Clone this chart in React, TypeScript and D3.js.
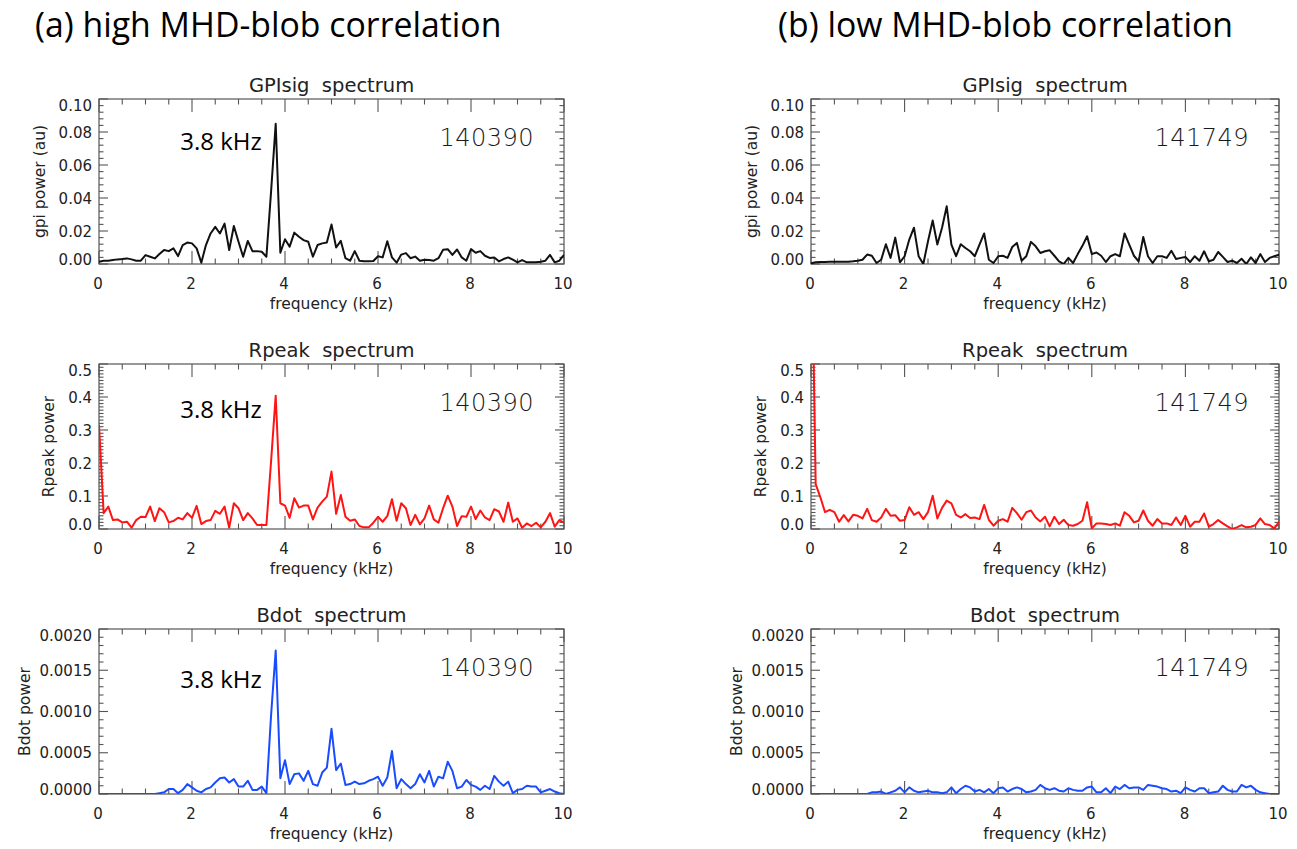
import React from "react";
import * as d3 from "d3";

// frequency bins are 0.1 kHz apart, 0 .. 10 kHz
const FREQ_STEP_KHZ = 0.1;

const headers = ["(a) high MHD-blob correlation", "(b) low MHD-blob correlation"];
const shots = ["140390", "141749"];
const peakLabel = "3.8 kHz";
const xTicks = [0, 2, 4, 6, 8, 10];
const xLabel = "frequency (kHz)";

const gpi140390 = [
  0.0014, 0.002, 0.002, 0.0024, 0.0028, 0.003, 0.0034, 0.0028, 0.002, 0.002,
  0.0054, 0.0044, 0.0034, 0.006, 0.0085, 0.0078, 0.0095, 0.0048, 0.0115, 0.013,
  0.0125, 0.0095, 0.0008, 0.0115, 0.0185, 0.0225, 0.0185, 0.0245, 0.0085, 0.023,
  0.0135, 0.0044, 0.014, 0.0078, 0.0078, 0.0074, 0.0044, 0.0437, 0.085, 0.0068,
  0.015, 0.0105, 0.019, 0.0165, 0.0145, 0.0135, 0.0044, 0.0115, 0.0125, 0.013,
  0.024, 0.01, 0.014, 0.0035, 0.002, 0.0078, 0.002, 0.0016, 0.0016, 0.0018,
  0.0047, 0.004, 0.0138, 0.004, 0.0008, 0.0057, 0.0066, 0.0035, 0.0045, 0.002,
  0.0026, 0.0024, 0.002, 0.0035, 0.0086, 0.009, 0.0055, 0.0088, 0.004, 0.002,
  0.009, 0.0068, 0.0078, 0.005, 0.0037, 0.004, 0.0016, 0.003, 0.004, 0.0026,
  0.001, 0.0024, 0.001, 0.001, 0.001, 0.0014, 0.002, 0.0055, 0.001, 0.002,
  0.0055,
];

const gpi141749 = [
  0.0004, 0.001, 0.0012, 0.0012, 0.0013, 0.0013, 0.0014, 0.0014, 0.0013, 0.0016,
  0.002, 0.0026, 0.0057, 0.005, 0.0006, 0.0026, 0.012, 0.0037, 0.016, 0.001,
  0.0047, 0.0148, 0.022, 0.0047, 0.0, 0.0138, 0.0264, 0.0118, 0.022, 0.035,
  0.0118, 0.0047, 0.012, 0.0097, 0.0077, 0.0047, 0.0118, 0.0185, 0.0026, 0.0006,
  0.0047, 0.005, 0.0037, 0.0103, 0.0128, 0.002, 0.0047, 0.0134, 0.0107, 0.0067,
  0.0077, 0.0083, 0.005, 0.0016, 0.0, 0.0037, 0.0006, 0.006, 0.011, 0.0168,
  0.006, 0.007, 0.005, 0.0012, 0.0047, 0.006, 0.0047, 0.0185, 0.0118, 0.005,
  0.0016, 0.0164, 0.0047, 0.0006, 0.0047, 0.0047, 0.0037, 0.008, 0.003, 0.0037,
  0.0043, 0.0012, 0.0047, 0.002, 0.0077, 0.0016, 0.0026, 0.0073, 0.0043, 0.0012,
  0.002, 0.0006, 0.0032, 0.0, 0.004, 0.0006, 0.006, 0.0012, 0.0037, 0.0047,
  0.0057,
];

const rpeak140390 = [
  0.316, 0.048, 0.068, 0.027, 0.029, 0.02, 0.022, 0.004, 0.027, 0.037,
  0.036, 0.068, 0.024, 0.063, 0.051, 0.02, 0.024, 0.034, 0.029, 0.048,
  0.034, 0.07, 0.015, 0.024, 0.027, 0.055, 0.046, 0.068, 0.004, 0.078,
  0.063, 0.027, 0.048, 0.032, 0.012, 0.012, 0.012, 0.204, 0.404, 0.078,
  0.071, 0.034, 0.093, 0.065, 0.071, 0.071, 0.029, 0.065, 0.083, 0.098,
  0.174, 0.046, 0.103, 0.037, 0.025, 0.029, 0.009, 0.005, 0.005, 0.019,
  0.037, 0.022, 0.039, 0.09, 0.025, 0.078, 0.063, 0.012, 0.043, 0.014,
  0.032, 0.071, 0.029, 0.019, 0.063, 0.101, 0.068, 0.009, 0.039, 0.037,
  0.068, 0.03, 0.056, 0.035, 0.027, 0.06, 0.053, 0.022, 0.08, 0.022,
  0.032, 0.004, 0.017, 0.009, 0.019, 0.005, 0.022, 0.048, 0.007, 0.027,
  0.019,
];

const rpeak141749 = [
  1.0, 0.136, 0.096, 0.051, 0.058, 0.051, 0.022, 0.042, 0.023, 0.043,
  0.04, 0.032, 0.061, 0.027, 0.022, 0.035, 0.061, 0.04, 0.042, 0.025,
  0.027, 0.066, 0.043, 0.051, 0.03, 0.051, 0.101, 0.032, 0.064, 0.086,
  0.078, 0.043, 0.035, 0.045, 0.033, 0.035, 0.03, 0.073, 0.028, 0.01,
  0.025, 0.03, 0.022, 0.064, 0.048, 0.028, 0.051, 0.056, 0.035, 0.023,
  0.037, 0.008, 0.037, 0.015, 0.028, 0.012, 0.01, 0.015, 0.025, 0.081,
  0.002, 0.017, 0.017, 0.015, 0.012, 0.017, 0.01, 0.051, 0.04, 0.02,
  0.025, 0.056, 0.025, 0.01, 0.03, 0.017, 0.017, 0.012, 0.035, 0.012,
  0.04, 0.007, 0.022, 0.022, 0.047, 0.007, 0.015, 0.027, 0.017, 0.008,
  0.0, 0.005, 0.012, 0.005, 0.007, 0.012, 0.032, 0.015, 0.012, 0.002,
  0.022,
];

const bdot140390 = [
  0, 0, 0, 0, 0, 0, 0, 0, 0, 0,
  0, 0, 0, 0.00001, 0.00002, 0.00006, 0.00006, 0.00001, 0.00005, 0.00012,
  0.00008, 0.00004, 0.00002, 0.00006, 0.00008, 0.00014, 0.00019, 0.0002, 0.00014, 0.00018,
  0.00009, 0.00009, 0.00016, 0.00005, 0.00005, 0.00009, 0.00001, 0.00095, 0.00174, 0.00019,
  0.00041, 0.00012, 0.00024, 0.00025, 0.00016, 0.00028, 0.00012, 0.0001, 0.00026, 0.00032,
  0.00079, 0.00029, 0.00037, 0.00011, 0.00012, 0.00015, 0.00012, 0.00013, 0.00016, 0.00018,
  0.00021, 0.0001, 0.0002, 0.00052, 0.00007, 0.00018, 0.00012, 0.00007, 0.00012, 0.00024,
  0.00014, 0.00028, 0.00009, 0.00021, 0.00019, 0.00039, 0.00028, 0.00007, 0.00009, 0.00017,
  0.00011, 0.00009, 0.00005, 0.0001, 0.00006, 0.00022, 0.00015, 0.0001, 0.00015, 0.00001,
  0.00005, 0.00006, 0.0001, 0.00009, 0.00009, 0.00002, 0.00004, 0.00006, 0.00003, 0.00001,
  0,
];

const bdot141749 = [
  0, 0, 0, 0, 0, 0, 0, 0, 0, 0,
  0, 0, 0, 0.00002, 0.00002, 0.00003, 0, 0.00002, 0.00004, 0.00008,
  0.00002, 0.00008, 0.00004, 0.00002, 0.00003, 0.00004, 0.00002, 0.00002, 0.00001, 0.00002,
  0.00008, 0.00001, 0.00006, 0.0001, 0.00008, 0.00003, 0.00005, 0.00002, 0.00006, 0.00001,
  0.00007, 0.00008, 0.00003, 0.00006, 0.00008, 0.00006, 0.00002, 0.00003, 0.00005, 0.00011,
  0.00007, 0.00005, 0.00007, 0.00004, 0.00003, 0.00007, 0.00005, 0.00004, 0.00004, 0.00008,
  0.00009, 0.00002, 0.00002, 0.00007, 0.00001, 0.00009, 0.00006, 0.00011, 0.00007, 0.00008,
  0.00008, 0.00005, 0.00011, 0.0001, 0.00009, 0.00007, 0.00006, 0.00003, 0.00004, 0.00001,
  0.00008, 0.00005, 0.00003, 0.00007, 0.00007, 0.00001, 0.00002, 0.00003, 0.0001, 0.00005,
  0.00003, 0.00003, 0.00011, 0.00008, 0.0001, 0.00005, 0.00002, 0.00001, 0, 0,
  0,
];

type RowDef = {
  title: string;
  yLabel: string;
  domain: [number, number];
  major: number;
  minor: number;
  decimals: number;
  color: string;
  series: number[][];
  peakShown: boolean[];
  yTitleOffset: number;
  peakDy: number;
};

const rows: RowDef[] = [
  {
    title: "GPIsig  spectrum",
    yLabel: "gpi power (au)",
    domain: [0, 0.1],
    major: 0.02,
    minor: 0.004,
    decimals: 2,
    color: "#111111",
    series: [gpi140390, gpi141749],
    peakShown: [true, false],
    yTitleOffset: 54,
    peakDy: 51,
  },
  {
    title: "Rpeak  spectrum",
    yLabel: "Rpeak power",
    domain: [0, 0.5],
    major: 0.1,
    minor: 0.01,
    decimals: 1,
    color: "#ff1414",
    series: [rpeak140390, rpeak141749],
    peakShown: [true, false],
    yTitleOffset: 45,
    peakDy: 54,
  },
  {
    title: "Bdot  spectrum",
    yLabel: "Bdot power",
    domain: [0, 0.002],
    major: 0.0005,
    minor: 0.0001,
    decimals: 4,
    color: "#1a4cff",
    series: [bdot140390, bdot141749],
    peakShown: [true, false],
    yTitleOffset: 69,
    peakDy: 59,
  },
];

const COLS: [number, number][] = [
  [99, 564],
  [811, 1279],
];
const ROW_TOPS = [99, 364, 629];
const PLOT_H = 165;

const IDL_FONT = "'DejaVu Sans', sans-serif";
const OFFICE_FONT = "'Open Sans', 'Noto Sans', sans-serif";
const AXIS_COLOR = "#555555";
const TEXT_COLOR = "#222222";

function ticksFor(min: number, max: number, step: number) {
  const n = Math.round((max - min) / step);
  return d3.range(n + 1).map((i) => min + i * step);
}

function isMajor(v: number, major: number) {
  const r = v / major;
  return Math.abs(r - Math.round(r)) < 1e-6;
}

function Panel({ row, col, rowIdx }: { row: RowDef; col: number; rowIdx: number }) {
  const [x0, x1] = COLS[col];
  const top = ROW_TOPS[rowIdx];
  const bottom = top + PLOT_H;
  const x = d3.scaleLinear().domain([0, 10]).range([x0, x1]);
  const y = d3.scaleLinear().domain(row.domain).range([bottom, top]);
  const data = row.series[col].map((v, i) => ({ f: i * FREQ_STEP_KHZ, v }));
  const line = d3
    .line<{ f: number; v: number }>()
    .x((d) => x(d.f))
    .y((d) => y(d.v));
  const clipId = `clip-${rowIdx}-${col}`;
  const xMinor = ticksFor(0, 10, 0.5);
  const yMinor = ticksFor(row.domain[0], row.domain[1], row.minor);
  const yMajor = ticksFor(row.domain[0], row.domain[1], row.major);
  const cx = (x0 + x1) / 2;
  const cy = (top + bottom) / 2;

  return (
    <g>
      <defs>
        <clipPath id={clipId}>
          <rect x={x0} y={top} width={x1 - x0} height={PLOT_H} />
        </clipPath>
      </defs>
      <text
        x={cx}
        y={top - 7}
        textAnchor="middle"
        fontFamily={IDL_FONT}
        fontSize={19.5}
        fill={TEXT_COLOR}
        style={{ whiteSpace: "pre" }}
      >
        {row.title}
      </text>
      {xMinor.map((t) => {
        const len = isMajor(t, 2) ? 13 : 5.5;
        return (
          <g key={`xt${t}`} stroke={AXIS_COLOR} strokeWidth={1.1}>
            <line x1={x(t)} x2={x(t)} y1={bottom} y2={bottom - len} />
            <line x1={x(t)} x2={x(t)} y1={top} y2={top + len} />
          </g>
        );
      })}
      {yMinor.map((t, i) => {
        const len = isMajor(t, row.major) ? 9 : 4.5;
        return (
          <g key={`yt${i}`} stroke={AXIS_COLOR} strokeWidth={1.1}>
            <line x1={x0} x2={x0 + len} y1={y(t)} y2={y(t)} />
            <line x1={x1} x2={x1 - len} y1={y(t)} y2={y(t)} />
          </g>
        );
      })}
      <rect
        x={x0}
        y={top}
        width={x1 - x0}
        height={PLOT_H}
        fill="none"
        stroke={AXIS_COLOR}
        strokeWidth={1.2}
      />
      {xTicks.map((t) => (
        <text
          key={`xl${t}`}
          x={x(t) - 1}
          y={bottom + 25}
          textAnchor="middle"
          fontFamily={IDL_FONT}
          fontSize={15}
          fill={TEXT_COLOR}
        >
          {t}
        </text>
      ))}
      {yMajor.map((t, i) => {
        let yy = y(t) + 5.5;
        if (i === 0) yy -= 5;
        if (i === yMajor.length - 1) yy += 6;
        return (
          <text
            key={`yl${i}`}
            x={x0 - 7}
            y={yy}
            textAnchor="end"
            fontFamily={IDL_FONT}
            fontSize={15}
            fill={TEXT_COLOR}
          >
            {t.toFixed(row.decimals)}
          </text>
        );
      })}
      <text
        x={cx}
        y={bottom + 45}
        textAnchor="middle"
        fontFamily={IDL_FONT}
        fontSize={15.5}
        fill={TEXT_COLOR}
      >
        {xLabel}
      </text>
      <text
        transform={`translate(${x0 - row.yTitleOffset},${cy}) rotate(-90)`}
        textAnchor="middle"
        fontFamily={IDL_FONT}
        fontSize={15.5}
        fill={TEXT_COLOR}
      >
        {row.yLabel}
      </text>
      <path
        d={line(data) || ""}
        fill="none"
        stroke={row.color}
        strokeWidth={2}
        strokeLinejoin="round"
        clipPath={`url(#${clipId})`}
      />
      <text
        x={x1 - 30}
        y={top + 47}
        textAnchor="end"
        fontFamily={IDL_FONT}
        fontSize={24}
        fontWeight={200}
        fill="#1a1a1a"
        letterSpacing={0.5}
      >
        {shots[col]}
      </text>
      {row.peakShown[col] && (
        <text
          x={x(3.5)}
          y={top + row.peakDy}
          textAnchor="end"
          fontFamily={OFFICE_FONT}
          fontSize={24}
          fill="#000"
        >
          {peakLabel}
        </text>
      )}
    </g>
  );
}

export default function App() {
  return (
    <svg
      width={1297}
      height={849}
      viewBox="0 0 1297 849"
      style={{ position: "absolute", left: 0, top: 0, background: "#fff" }}
    >
      <rect x={0} y={0} width={1297} height={849} fill="#fff" />
      <text x={35} y={37} fontFamily={OFFICE_FONT} fontSize={33.8} fill="#000">
        {headers[0]}
      </text>
      <text x={778} y={37} fontFamily={OFFICE_FONT} fontSize={33.8} fill="#000">
        {headers[1]}
      </text>
      {rows.map((row, ri) =>
        [0, 1].map((c) => <Panel key={`${ri}-${c}`} row={row} col={c} rowIdx={ri} />)
      )}
    </svg>
  );
}
